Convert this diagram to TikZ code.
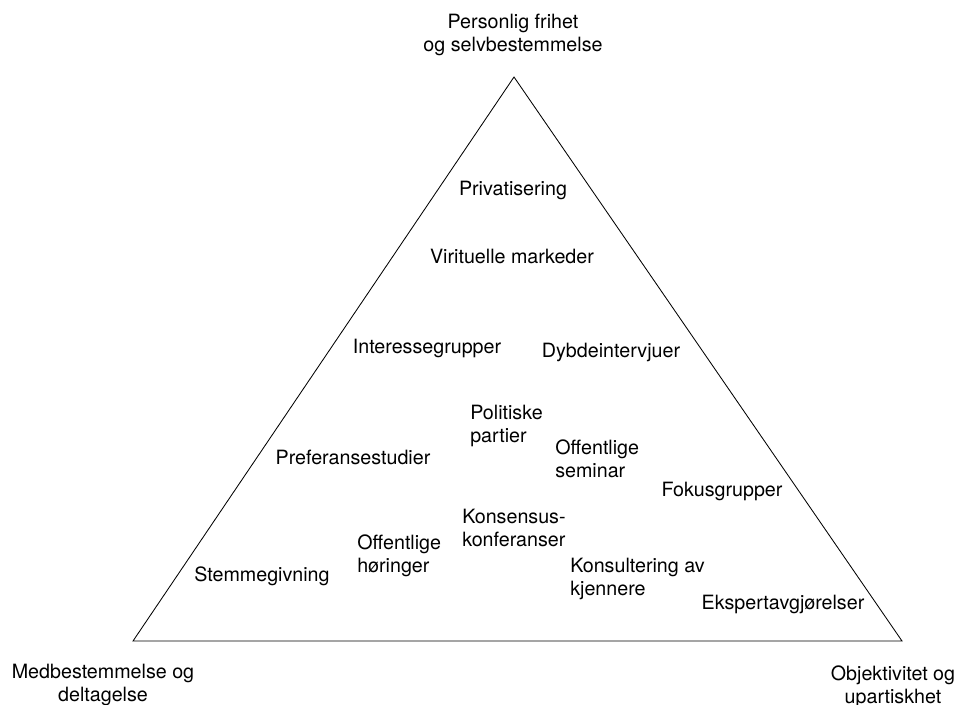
\documentclass[tikz,border=0pt]{standalone}
\usepackage{fontspec}
\setmainfont{TeX Gyre Heros}
\usepackage{tikz}
\usetikzlibrary{positioning,calc}

\tikzset{
    lbl/.style={inner sep=0pt, font=\fontsize{14}{16.4}\selectfont},
    lblc/.style={lbl, align=center},
    lbll/.style={lbl, align=left, anchor=west}
}

\begin{document}
\begin{tikzpicture}[x=0.025cm, y=-0.025cm]
    \useasboundingbox (0,0) rectangle (958,704);

    % Triangle
    \coordinate (top) at (514,77);
    \coordinate (bl) at (133,641);
    \coordinate (br) at (902,641);
    \draw[line width=0.6pt] (top) -- (bl) -- (br) -- cycle;

    % Corner labels
    \node[lblc] (frihet) at (513,35) {Personlig frihet\\og selvbestemmelse};
    \node[lblc] (medbest) at (103,685) {Medbestemmelse og\\deltagelse};
    \node[lblc] (objekt) at (893,687) {Objektivitet og\\upartiskhet};

    % Single line entries
    \node[lblc] (priv) at (513,190) {Privatisering};
    \node[lblc] (virt) at (512,256) {Virituelle markeder};
    \node[lblc] (inter) at (427,348) {Interessegrupper};
    \node[lblc] (dybde) at (611,352) {Dybdeintervjuer};
    \node[lblc] (pref) at (353,457) {Preferansestudier};
    \node[lblc] (fokus) at (722,491) {Fokusgrupper};
    \node[lblc] (stemme) at (262,576) {Stemmegivning};
    \node[lblc] (ekspert) at (783,604) {Ekspertavgjørelser};

    % Two line entries
    \node[lbll] (parti) at (470,426) {Politiske\\partier};
    \node[lbll] (seminar) at (555,459) {Offentlige\\seminar};
    \node[lbll] (konsensus) at (462,528) {Konsensus-\\konferanser};
    \node[lbll] (horing) at (357,556) {Offentlige\\høringer};
    \node[lbll] (konsult) at (570,579) {Konsultering av\\kjennere};
\end{tikzpicture}
\end{document}
